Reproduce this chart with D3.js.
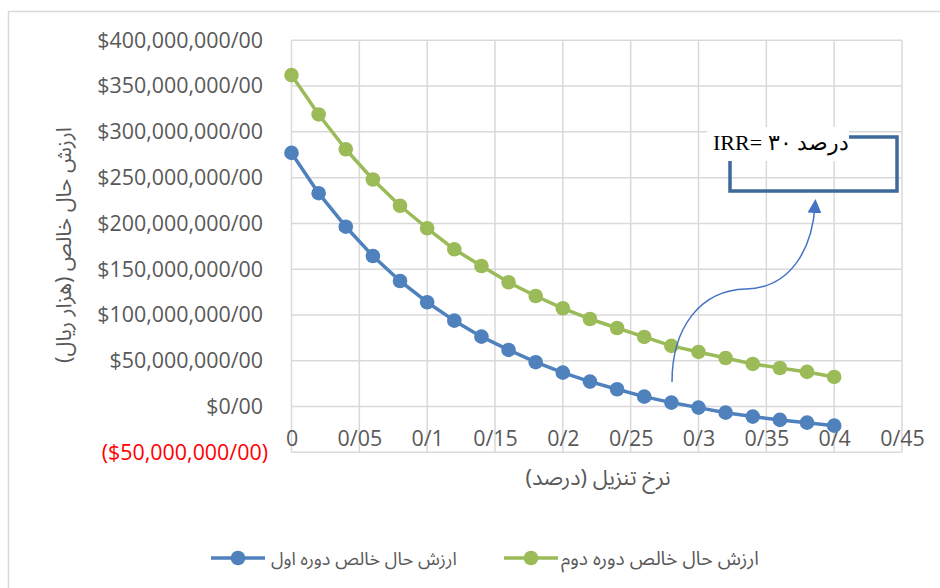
<!DOCTYPE html>
<html><head><meta charset="utf-8">
<script src="https://cdn.jsdelivr.net/npm/d3@7"></script>
<style>body{margin:0;background:#fff} svg{display:block}</style>
</head><body>
<svg id="c" width="940" height="588"></svg>
<script>
// ---- data ----
const xValues = [0, 0.02, 0.04, 0.06, 0.08, 0.10, 0.12, 0.14, 0.16, 0.18, 0.20, 0.22, 0.24, 0.26, 0.28, 0.30, 0.32, 0.34, 0.36, 0.38, 0.40];
// values in millions
const npvPeriod1 = [277, 233, 196.4, 164.4, 137.1, 113.9, 93.8, 76.3, 61.8, 48.4, 37, 27.2, 18.9, 10.8, 4.3, -1.2, -6.7, -11, -14.6, -17.6, -20.9];
const npvPeriod2 = [362, 319, 281, 248, 219.3, 194.7, 171.7, 153.5, 135.7, 120.7, 107.3, 95.6, 85.8, 76, 66.2, 59.6, 53, 46.5, 42.1, 37.8, 32.3];
const seriesNames = ["ارزش حال خالص دوره اول", "ارزش حال خالص دوره دوم"];
const yTicks = [-50, 0, 50, 100, 150, 200, 250, 300, 350, 400];
const yTickLabels = ["($50,000,000/00)", "$0/00", "$50,000,000/00", "$100,000,000/00", "$150,000,000/00", "$200,000,000/00", "$250,000,000/00", "$300,000,000/00", "$350,000,000/00", "$400,000,000/00"];
const xTicks = [0, 0.05, 0.1, 0.15, 0.2, 0.25, 0.3, 0.35, 0.4, 0.45];
const xTickLabels = ["0", "0/05", "0/1", "0/15", "0/2", "0/25", "0/3", "0/35", "0/4", "0/45"];
const xTitle = "نرخ تنزیل (درصد)";
const yTitle = "ارزش حال خالص (هزار ریال)";
const irrLabel = "IRR= ۳۰\u200E درصد";

const colors = ["#4F81BD", "#9BBB59"];
const faFont = "'Noto Sans Arabic','DejaVu Sans',sans-serif";
const numFont = "'Open Sans',sans-serif";

const svg = d3.select('#c');
svg.append('rect').attr('x', 8.5).attr('y', 11.5).attr('width', 980).attr('height', 620)
  .attr('fill', '#fff').attr('stroke', '#d9d9d9').attr('stroke-width', 1.5);

const x = d3.scaleLinear().domain([0, 0.45]).range([291.5, 902]);
const y = d3.scaleLinear().domain([-50, 400]).range([452.3, 40.3]);

function fit(sel, target) {
  const fs = parseFloat(sel.attr('font-size'));
  const w = sel.node().getComputedTextLength();
  if (w > 0) sel.attr('font-size', fs * target / w);
  return sel;
}

// grid
const grid = svg.append('g').attr('stroke', '#d9d9d9').attr('stroke-width', 1.5);
grid.selectAll('line.h').data(yTicks).join('line').attr('class', 'h')
  .attr('x1', x(0)).attr('x2', x(0.45)).attr('y1', d => y(d)).attr('y2', d => y(d));
grid.selectAll('line.v').data(xTicks).join('line').attr('class', 'v')
  .attr('y1', y(-50)).attr('y2', y(400)).attr('x1', d => x(d)).attr('x2', d => x(d));

// y axis labels
const yAxis = d3.axisLeft(y).tickValues(yTicks).tickSize(0).tickPadding(0)
  .tickFormat((d, i) => yTickLabels[i]);
const gy = svg.append('g').attr('transform', 'translate(263,0)').call(yAxis);
gy.select('.domain').remove();
gy.selectAll('text').attr('font-family', numFont).attr('fill', (d) => d < 0 ? '#FF0000' : '#595959')
  .attr('font-size', 21).attr('dx', d => d < 0 ? 5 : 0);
{
  const t = gy.selectAll('text').filter(d => d === 400);
  const w = t.node().getComputedTextLength();
  const fs = 21 * 166 / w;
  gy.selectAll('text').attr('font-size', fs);
}

// x axis labels
const xAxis = d3.axisBottom(x).tickValues(xTicks).tickSize(0).tickPadding(0)
  .tickFormat((d, i) => xTickLabels[i]);
const gx = svg.append('g').attr('transform', `translate(0,${y(0)})`).call(xAxis);
gx.select('.domain').remove();
gx.selectAll('text').attr('font-family', numFont).attr('fill', '#595959')
  .attr('font-size', gy.select('text').attr('font-size')).attr('y', 39).attr('dy', null);

// series
const series = [npvPeriod1, npvPeriod2];
const line = d3.line().x((d, i) => x(xValues[i])).y(d => y(d));
series.forEach((vals, s) => {
  svg.append('path').datum(vals).attr('d', line).attr('fill', 'none')
    .attr('stroke', colors[s]).attr('stroke-width', 3.5).attr('stroke-linejoin', 'round');
  svg.append('g').selectAll('circle').data(vals).join('circle')
    .attr('cx', (d, i) => x(xValues[i])).attr('cy', d => y(d)).attr('r', 7.3)
    .attr('fill', colors[s]);
});

// axis titles
const xt = svg.append('text').attr('x', 598).attr('y', 485).attr('text-anchor', 'middle')
  .attr('font-family', faFont).attr('font-size', 17).attr('fill', '#595959').attr('direction', 'rtl').text(xTitle);
fit(xt, 145);
const yt = svg.append('text').attr('transform', 'translate(71,245) rotate(-90)').attr('text-anchor', 'middle')
  .attr('font-family', faFont).attr('font-size', 17).attr('fill', '#595959').attr('direction', 'rtl').text(yTitle);
fit(yt, 236);

// annotation frame
svg.append('rect').attr('x', 730).attr('y', 137).attr('width', 167).attr('height', 54)
  .attr('fill', 'none').attr('stroke', '#3E6A9A').attr('stroke-width', 3.5);
svg.append('rect').attr('x', 707).attr('y', 127).attr('width', 142).attr('height', 34).attr('fill', '#fff');
const irr = svg.append('text').attr('x', 713).attr('y', 150).attr('font-family', "'Liberation Serif',serif")
  .attr('font-size', 20).attr('fill', '#000').text(irrLabel);
fit(irr, 136);

// curved arrow
const defs = svg.append('defs');
defs.append('marker').attr('id', 'ah').attr('viewBox', '0 0 10 10').attr('refX', 5).attr('refY', 5)
  .attr('markerWidth', 14).attr('markerHeight', 14).attr('markerUnits', 'userSpaceOnUse').attr('orient', 'auto')
  .append('path').attr('d', 'M0,0 L10,5 L0,10 z').attr('fill', '#4472C4');
svg.append('path').attr('d', 'M672,382 C672,328 700,290 746,289 C790,288 812,250 815,206')
  .attr('fill', 'none').attr('stroke', '#4472C4').attr('stroke-width', 1.5).attr('marker-end', 'url(#ah)');

// legend
const legendItems = [{ lx: 211, tx: 271, w: 186 }, { lx: 504, tx: 561, w: 198 }];
legendItems.forEach((it, s) => {
  const g = svg.append('g');
  g.append('line').attr('x1', it.lx).attr('x2', it.lx + 54).attr('y1', 558).attr('y2', 558)
    .attr('stroke', colors[s]).attr('stroke-width', 3.5);
  g.append('circle').attr('cx', it.lx + 27).attr('cy', 558).attr('r', 7.3).attr('fill', colors[s]);
  const t = g.append('text').attr('x', it.tx).attr('y', 565).attr('text-anchor', 'start')
    .attr('font-family', faFont).attr('font-size', 16).attr('fill', '#595959').attr('direction', 'ltr').text(seriesNames[s]);
  fit(t, it.w);
});
</script>
</body></html>
